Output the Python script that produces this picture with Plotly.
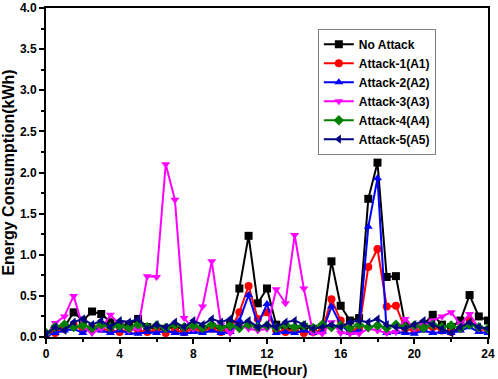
import plotly.graph_objects as go

hours = [i * 0.5 for i in range(49)]

no_attack = [0.02, 0.1, 0.12, 0.3, 0.2, 0.31, 0.28, 0.18, 0.15, 0.15, 0.22, 0.12, 0.1, 0.1, 0.12, 0.1,
             0.12, 0.1, 0.12, 0.1, 0.15, 0.59, 1.23, 0.41, 0.59, 0.15, 0.1, 0.1, 0.12, 0.1, 0.12, 0.92,
             0.38, 0.2, 0.23, 1.68, 2.12, 0.73, 0.74, 0.15, 0.12, 0.15, 0.27, 0.15, 0.12, 0.2, 0.51, 0.25, 0.2]
attack1 = [0.02, 0.05, 0.1, 0.15, 0.08, 0.12, 0.1, 0.08, 0.06, 0.1, 0.08, 0.06, 0.08, 0.05, 0.08, 0.06,
           0.1, 0.08, 0.1, 0.06, 0.08, 0.3, 0.62, 0.22, 0.3, 0.08, 0.06, 0.08, 0.05, 0.06, 0.08, 0.46,
           0.2, 0.08, 0.1, 0.85, 1.07, 0.37, 0.38, 0.1, 0.08, 0.1, 0.12, 0.08, 0.06, 0.1, 0.2, 0.1, 0.08]
attack2 = [0.01, 0.05, 0.08, 0.1, 0.05, 0.12, 0.08, 0.05, 0.08, 0.05, 0.04, 0.06, 0.05, 0.08, 0.05, 0.04,
           0.06, 0.05, 0.08, 0.05, 0.06, 0.2, 0.51, 0.15, 0.4, 0.05, 0.06, 0.05, 0.08, 0.05, 0.06, 0.37,
           0.15, 0.05, 0.08, 1.34, 1.93, 0.05, 0.06, 0.05, 0.04, 0.08, 0.05, 0.06, 0.05, 0.08, 0.12, 0.06, 0.05]
attack3 = [0.02, 0.17, 0.25, 0.5, 0.12, 0.05, 0.1, 0.27, 0.15, 0.08, 0.1, 0.74, 0.73, 2.1, 1.67, 0.23,
           0.1, 0.37, 0.92, 0.15, 0.05, 0.15, 0.1, 0.08, 0.1, 0.58, 0.41, 1.24, 0.59, 0.05, 0.04, 0.18,
           0.05, 0.04, 0.04, 0.1, 0.08, 0.05, 0.06, 0.22, 0.1, 0.15, 0.2, 0.25, 0.3, 0.15, 0.28, 0.1, 0.1]
attack4 = [0.05, 0.12, 0.15, 0.12, 0.14, 0.11, 0.15, 0.12, 0.14, 0.11, 0.15, 0.12, 0.14, 0.11, 0.15, 0.12,
           0.14, 0.11, 0.15, 0.12, 0.14, 0.11, 0.15, 0.12, 0.14, 0.11, 0.15, 0.12, 0.14, 0.11, 0.15, 0.12,
           0.14, 0.11, 0.15, 0.12, 0.14, 0.11, 0.15, 0.12, 0.14, 0.11, 0.15, 0.12, 0.14, 0.11, 0.15, 0.12, 0.1]
attack5 = [0.03, 0.12, 0.08, 0.18, 0.22, 0.15, 0.2, 0.12, 0.2, 0.18, 0.22, 0.1, 0.15, 0.12, 0.18, 0.12,
           0.2, 0.15, 0.22, 0.18, 0.22, 0.15, 0.2, 0.12, 0.15, 0.12, 0.18, 0.2, 0.15, 0.1, 0.12, 0.15,
           0.12, 0.18, 0.2, 0.18, 0.22, 0.15, 0.12, 0.1, 0.15, 0.2, 0.15, 0.1, 0.05, 0.12, 0.18, 0.12, 0.1]

names = ["No Attack", "Attack-1(A1)", "Attack-2(A2)", "Attack-3(A3)", "Attack-4(A4)", "Attack-5(A5)"]
series = [no_attack, attack1, attack2, attack3, attack4, attack5]
colors = ["#000000", "#FF0000", "#0000FF", "#FF00FF", "#008000", "#000080"]
symbols = ["square", "circle", "triangle-up", "triangle-down", "diamond", "triangle-left"]

x_ticks = [0, 4, 8, 12, 16, 20, 24]
y_ticks = [0.0, 0.5, 1.0, 1.5, 2.0, 2.5, 3.0, 3.5, 4.0]

FONT = "Arial, Liberation Sans, sans-serif"

fig = go.Figure()
for name, ys, c, s in zip(names, series, colors, symbols):
    fig.add_trace(go.Scatter(
        x=hours, y=ys, name=name, mode="lines+markers",
        line=dict(color=c, width=2),
        marker=dict(symbol=s, size=8, color=c),
    ))

fig.update_layout(
    width=498, height=379,
    margin=dict(l=46, r=10, t=8, b=42),
    plot_bgcolor="white", paper_bgcolor="white",
    font=dict(family=FONT, color="black"),
    showlegend=True,
    legend=dict(
        x=0.615, y=0.937, xanchor="left", yanchor="top",
        bordercolor="#808080", borderwidth=1, bgcolor="white",
        font=dict(family=FONT, size=12, color="black", weight="bold"),
        tracegroupgap=0, itemwidth=30,
    ),
)
fig.update_xaxes(
    range=[0, 24], tickvals=x_ticks, ticktext=[str(v) for v in x_ticks],
    showgrid=False, zeroline=False, showline=True, linecolor="black", linewidth=2, mirror=True,
    ticks="outside", ticklen=5, tickwidth=2, tickcolor="black",
    minor=dict(dtick=2, ticks="outside", ticklen=3, tickwidth=1.5, tickcolor="black"),
    tickfont=dict(size=12, weight="bold"), automargin=False,
    title=dict(text="<b>TIME(Hour)</b>", font=dict(size=15), standoff=2),
)
fig.update_yaxes(
    range=[0, 4.0], tickvals=y_ticks, ticktext=[f"{v:.1f}" for v in y_ticks],
    showgrid=False, zeroline=False, showline=True, linecolor="black", linewidth=2, mirror=True,
    ticks="outside", ticklen=5, tickwidth=2, tickcolor="black",
    minor=dict(dtick=0.25, ticks="outside", ticklen=3, tickwidth=1.5, tickcolor="black"),
    tickfont=dict(size=12, weight="bold"), automargin=False,
    title=dict(text="<b>Energy Consumption(kWh)</b>", font=dict(size=16), standoff=4),
)

fig.write_html("out.html", config={"displayModeBar": False},
               post_script="document.body.style.margin='0';")
